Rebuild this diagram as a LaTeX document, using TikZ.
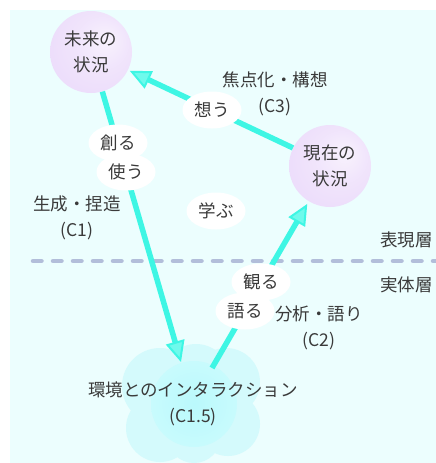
\documentclass[tikz,border=0pt]{standalone}
\usepackage{fontspec}
\setmainfont{Noto Sans CJK JP}
\usetikzlibrary{arrows.meta,shapes.geometric}
\definecolor{bg}{RGB}{236,254,254}
\definecolor{lav}{RGB}{233,215,250}
\definecolor{lavhi}{RGB}{248,242,253}
\definecolor{arr}{RGB}{62,246,228}
\definecolor{arrin}{RGB}{110,250,236}
\definecolor{dashc}{RGB}{178,190,218}
\definecolor{txt}{RGB}{58,58,58}
\definecolor{cloudc}{RGB}{212,250,252}
\definecolor{cloudin}{RGB}{186,249,252}
\definecolor{cloudinhi}{RGB}{200,251,253}
\pgfdeclareradialshading{lavball}{\pgfpoint{10bp}{8bp}}{color(0bp)=(lavhi); color(16bp)=(lavhi!50!lav); color(42bp)=(lav); color(50bp)=(lav)}
\tikzset{
  txtfont/.style={font=\fontsize{17.5}{26.5}\selectfont, text=txt},
  ball/.style={circle, minimum size=82pt, inner sep=0pt, shading=lavball, align=center, txtfont},
  lbl/.style={ellipse, fill=white, minimum width=59pt, minimum height=37pt, inner sep=0pt, txtfont},
  plain/.style={align=center, inner sep=0pt, txtfont},
  flow/.style={draw=arr, line width=5.5pt, -{Triangle[width=19pt,length=21pt,fill=arrin,line width=2pt]}},
  layerline/.style={draw=dashc, line width=4.5pt, line cap=round, dash pattern=on 8.5pt off 11.5pt},
}
\begin{document}
\begin{tikzpicture}[x=1pt,y=-1pt]
\useasboundingbox (0,0) rectangle (436,463);
\fill[bg] (10,10) rectangle (436,463);
% layer separator
\coordinate (dl) at (33,261);
\coordinate (dr) at (436,261);
\draw[layerline] (dl) -- (dr);
% cloud
\fill[cloudc] (160,386) circle[radius=38pt];
\fill[cloudc] (196,378) circle[radius=34pt];
\fill[cloudc] (226,382) circle[radius=34pt];
\fill[cloudc] (160,428) circle[radius=34pt];
\fill[cloudc] (228,424) circle[radius=32pt];
\fill[cloudc] (194,436) circle[radius=27pt];
\shade[inner color=cloudin, outer color=cloudinhi] (194,404) circle[radius=43pt];
\node[plain] (env) at (193,404) {環境とのインタラクション\\(C1.5)};
% balls
\node[ball] (future) at (91,52) {未来の\\状況};
\node[ball] (present) at (330,166) {現在の\\状況};
% connector end points in the cloud
\coordinate (envin) at (181,362);
\coordinate (envout) at (212,368);
% arrows
\draw[flow] (future.-74) -- (envin);
\draw[flow, shorten >=3pt] (envout) -- (present.-121);
\draw[flow, shorten >=2pt] (present.154) -- (future.-26);
% arrow labels
\node[lbl] (omou) at (212,110) {想う};
\node[lbl] (tsukuru) at (118,143) {創る};
\node[lbl] (tsukau) at (126,172) {使う};
\node[lbl] (manabu) at (216,211) {学ぶ};
\node[lbl] (miru) at (261,282) {観る};
\node[lbl] (kataru) at (245,311) {語る};
% captions
\node[plain] (c3) at (275,94) {焦点化・構想\\(C3)};
\node[plain] (c1) at (77,218) {生成・捏造\\(C1)};
\node[plain] (c2) at (319,328) {分析・語り\\(C2)};
\node[plain, anchor=east] (hyogen) at (433,240) {表現層};
\node[plain, anchor=east] (jittai) at (433,285) {実体層};
\end{tikzpicture}
\end{document}
